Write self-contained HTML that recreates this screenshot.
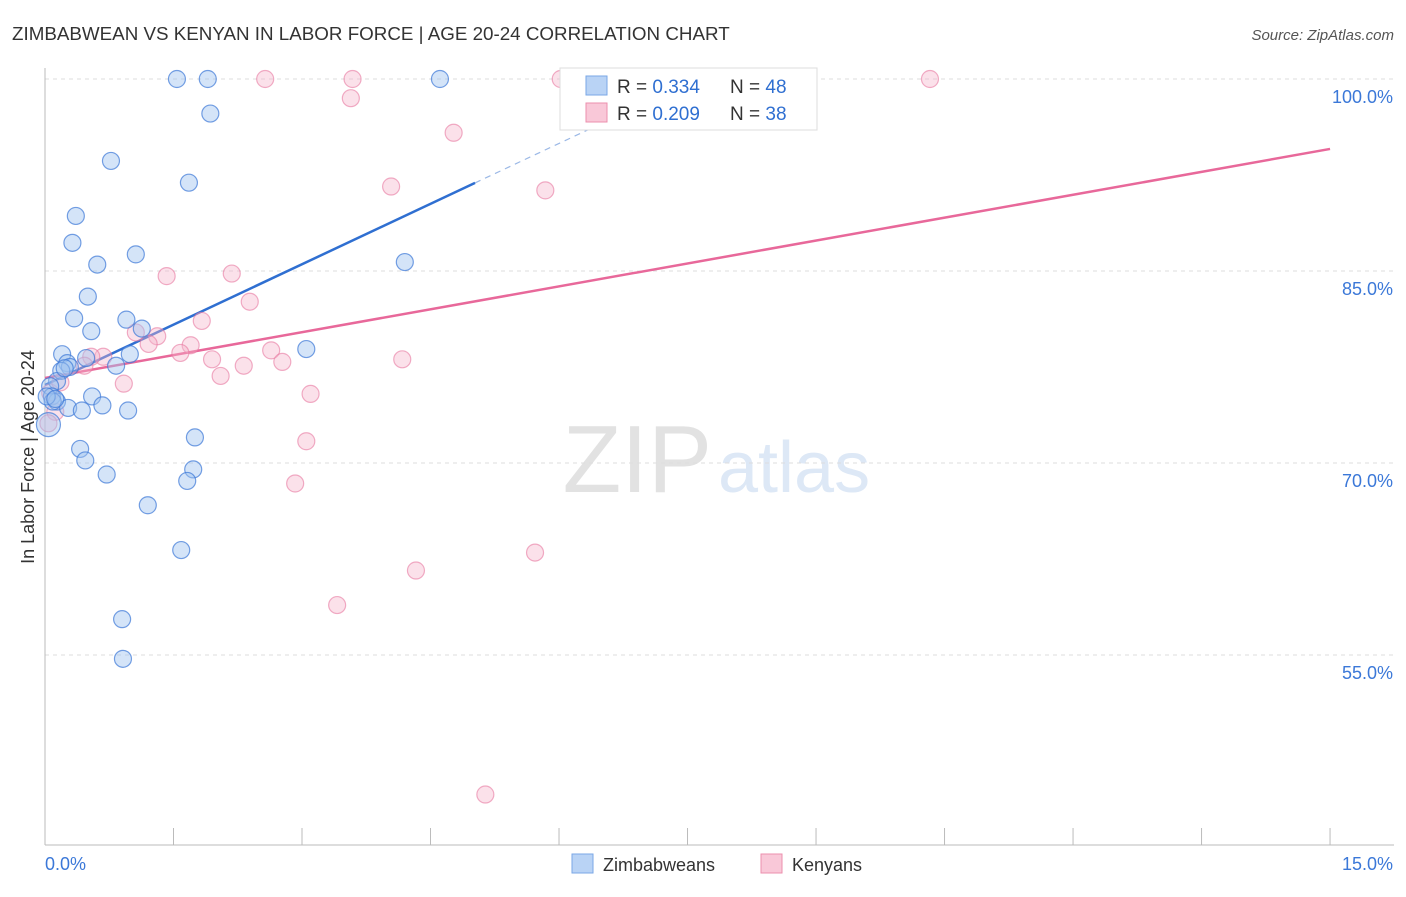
<!DOCTYPE html>
<html><head><meta charset="utf-8"><style>
body{margin:0;background:#fff;font-family:"Liberation Sans",sans-serif;}
svg text{font-family:"Liberation Sans",sans-serif;}
</style></head><body>
<svg id="chart" width="1406" height="892">
<text x="12" y="40" font-size="18.8" fill="#333">ZIMBABWEAN VS KENYAN IN LABOR FORCE | AGE 20-24 CORRELATION CHART</text>
<text x="1394" y="40" font-size="15" fill="#555" font-style="italic" text-anchor="end">Source: ZipAtlas.com</text>
<text x="712" y="492" font-size="96" fill="#e2e2e2" font-family="Liberation Serif" text-anchor="end">ZIP</text>
<text x="718" y="492" font-size="72" fill="#dde8f6">atlas</text>
<g id="grid"></g>
<g id="axes"></g>
<g id="trend"></g>
<g id="points"></g>
<text transform="translate(34,457) rotate(-90)" font-size="18" fill="#333" text-anchor="middle">In Labor Force | Age 20-24</text>
<g>
<rect x="560" y="68" width="257" height="62" fill="#fff" stroke="#ddd"/>
<rect x="586" y="76" width="21" height="19" fill="#b9d3f5" stroke="#7aa7e6"/>
<text x="617" y="93" font-size="19" fill="#333">R = <tspan fill="#2f6fd1">0.334</tspan></text>
<text x="730" y="93" font-size="19" fill="#333">N = <tspan fill="#2f6fd1">48</tspan></text>
<rect x="586" y="103" width="21" height="19" fill="#f9c8d8" stroke="#ec8fae"/>
<text x="617" y="120" font-size="19" fill="#333">R = <tspan fill="#2f6fd1">0.209</tspan></text>
<text x="730" y="120" font-size="19" fill="#333">N = <tspan fill="#2f6fd1">38</tspan></text>
</g>
<g>
<rect x="572" y="854" width="21" height="19" fill="#b9d3f5" stroke="#7aa7e6"/>
<text x="603" y="871" font-size="18" fill="#333">Zimbabweans</text>
<rect x="761" y="854" width="21" height="19" fill="#f9c8d8" stroke="#ec8fae"/>
<text x="792" y="871" font-size="18" fill="#333">Kenyans</text>
</g>
</svg>
<script>
const blueX=[1.54,1.90,4.61,1.93,0.77,1.68,0.36,0.32,1.06,0.61,4.20,0.50,0.34,0.54,0.95,1.13,3.05,0.20,0.99,0.48,0.26,0.83,0.29,0.19,0.14,0.06,0.08,0.55,0.14,0.09,0.67,0.27,0.43,0.97,0.04,0.41,0.47,0.72,1.73,1.66,1.75,1.20,1.59,0.90,0.91,0.02,0.12,0.23];
const blueY=[100,100,100,97.3,93.6,91.9,89.3,87.2,86.3,85.5,85.7,83.0,81.3,80.3,81.2,80.5,78.9,78.5,78.5,78.2,77.8,77.6,77.5,77.2,76.4,76.0,75.2,75.2,74.8,74.8,74.5,74.3,74.1,74.1,73.0,71.1,70.2,69.1,69.5,68.6,72.0,66.7,63.2,57.8,54.7,75.2,75.0,77.4];
const pinkX=[2.57,3.59,6.02,10.33,3.57,4.77,4.04,5.84,1.42,2.18,2.39,1.83,1.06,1.31,1.21,1.70,1.58,2.64,1.95,2.32,2.77,4.17,0.68,0.54,0.46,2.05,0.92,3.10,3.05,2.92,5.72,4.33,3.41,5.14,0.06,0.12,0.04,0.18];
const pinkY=[100,100,100,100,98.5,95.8,91.6,91.3,84.6,84.8,82.6,81.1,80.2,79.9,79.3,79.2,78.6,78.8,78.1,77.6,77.9,78.1,78.3,78.3,77.6,76.8,76.2,75.4,71.7,68.4,63.0,61.6,58.9,44.1,75.5,74.0,73.1,76.3];
const yTicks=[100,85,70,55];
const yTickLabels=["100.0%","85.0%","70.0%","55.0%"];
const xEnds=[0,15];
const xEndLabels=["0.0%","15.0%"];
const blueTrend=[76.09,3.146];
const pinkTrend=[76.64,1.193];
const NS="http://www.w3.org/2000/svg";
const sx=v=>45+v*85.67, sy=v=>79+(100-v)*12.8;
function mk(tag,attrs,parent){const e=document.createElementNS(NS,tag);for(const k in attrs)e.setAttribute(k,attrs[k]);document.getElementById(parent).appendChild(e);return e;}
yTicks.forEach((t,i)=>{
 const g=mk('line',{x1:45,x2:1394,y1:sy(t),y2:sy(t),stroke:'#ddd','stroke-dasharray':'4,4'},'grid');
 
 
 const l=mk('text',{x:1393,y:sy(t)+24,'font-size':18,fill:'#3b78d8','text-anchor':'end'},'grid');
 l.textContent=yTickLabels[i];
 
 
});
const ax=mk('line',{x1:45,x2:45,y1:68,y2:845,stroke:'#bbb'},'axes');


const bx=mk('line',{x1:45,x2:1394,y1:845,y2:845,stroke:'#bbb'},'axes');


for(let i=0;i<=10;i++){const v=i*1.5;const t=mk('line',{x1:sx(v),x2:sx(v),y1:828,y2:845,stroke:'#bbb'},'axes');
 
 }
xEnds.forEach((v,i)=>{const t=mk('text',{x:i?1393:45,y:870,'font-size':18,fill:'#3b78d8','text-anchor':i?'end':'start'},'axes');t.textContent=xEndLabels[i];
 
 });
const bEnd=5.02;
const bl=mk('line',{x1:sx(0),y1:sy(blueTrend[0]),x2:sx(bEnd),y2:sy(blueTrend[0]+blueTrend[1]*bEnd),stroke:'#2f6fd1','stroke-width':2.5},'trend');


const bxEnd=(100-blueTrend[0])/blueTrend[1];
const bd=mk('line',{x1:sx(bEnd),y1:sy(blueTrend[0]+blueTrend[1]*bEnd),x2:sx(bxEnd),y2:sy(100),stroke:'#9bb8e6','stroke-width':1.2,'stroke-dasharray':'6,5'},'trend');


const pl=mk('line',{x1:sx(0),y1:sy(pinkTrend[0]),x2:sx(15),y2:sy(pinkTrend[0]+pinkTrend[1]*15),stroke:'#e8689a','stroke-width':2.5},'trend');


pinkX.forEach((x,i)=>{const c=mk('circle',{cx:sx(x),cy:sy(pinkY[i]),r:8.5,fill:'rgba(246,180,202,0.4)',stroke:'rgba(232,120,160,0.6)','stroke-width':1.2},'points');
 
 });
blueX.forEach((x,i)=>{const c=mk('circle',{cx:sx(x),cy:sy(blueY[i]),r:i==34?12:8.5,fill:'rgba(160,195,240,0.45)',stroke:'rgba(60,120,215,0.7)','stroke-width':1.2},'points');
 
 });
</script>
</body></html>
